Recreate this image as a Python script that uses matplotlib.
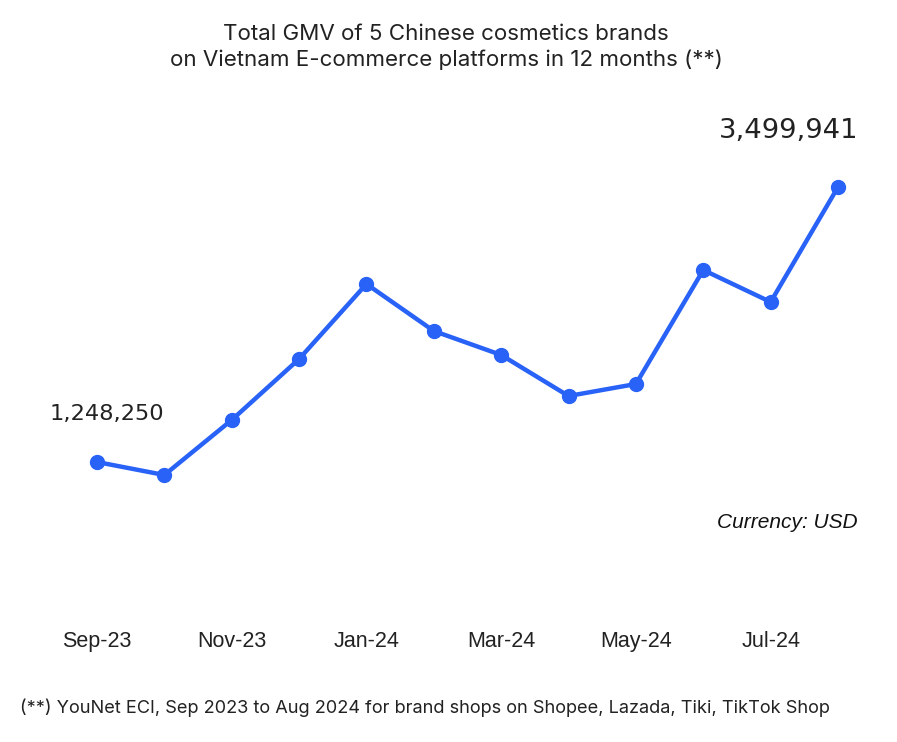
import matplotlib
matplotlib.use("Agg")
import matplotlib.pyplot as plt

months = ["Sep-23", "Oct-23", "Nov-23", "Dec-23", "Jan-24", "Feb-24",
          "Mar-24", "Apr-24", "May-24", "Jun-24", "Jul-24", "Aug-24"]
gmv = [1248250, 1141800, 1592150, 2091600, 2705700, 2320900,
       2124400, 1788700, 1886900, 2820300, 2558300, 3499941]
tick_labels = ["Sep-23", "Nov-23", "Jan-24", "Mar-24", "May-24", "Jul-24"]

W, H = 897, 742
fig = plt.figure(figsize=(W / 100, H / 100), dpi=100)
fig.patch.set_facecolor("white")

# axes spanning pixel x 60..875, y 100..600
ax = fig.add_axes([60 / W, 1 - 600 / H, (875 - 60) / W, (600 - 100) / H])
x = list(range(len(months)))
ax.plot(x, gmv, color="#2962F7", lw=3.2, marker="o", ms=10,
        solid_joinstyle="round", solid_capstyle="round", zorder=3)
ax.set_xlim(-0.549, 11.549)
ax.set_ylim(118306, 4212306)
ax.set_xticks([months.index(t) for t in tick_labels])
ax.set_xticklabels(tick_labels, fontsize=15.5, family="Liberation Sans",
                   color="#222222")
ax.tick_params(axis="x", length=0, pad=22)
ax.set_yticks([])
for s in ax.spines.values():
    s.set_visible(False)

ax.annotate(f"{gmv[0]:,}", xy=(0, gmv[0]), xytext=(-47, 48),
            textcoords="offset pixels", ha="left", va="center",
            fontsize=16.2, family="DejaVu Sans", color="#222222")
ax.annotate(f"{gmv[-1]:,}", xy=(11, gmv[-1]), xytext=(-49, 56),
            textcoords="offset pixels", ha="center", va="center",
            fontsize=19.7, family="DejaVu Sans", color="#222222")

fig.text(858 / W, 1 - 522 / H, "Currency: USD", ha="right", va="center",
         fontsize=15, style="italic", family="Liberation Sans", color="#111111")

fig.text(446 / W, 1 - 47 / H,
         "Total GMV of 5 Chinese cosmetics brands\non Vietnam E-commerce platforms in 12 months (**)",
         ha="center", va="center", fontsize=16.1, family="Inter",
         color="#222222", linespacing=1.32)

fig.text(20 / W, 1 - 708 / H,
         "(**) YouNet ECI, Sep 2023 to Aug 2024 for brand shops on Shopee, Lazada, Tiki, TikTok Shop",
         ha="left", va="center", fontsize=13.1, family="Inter", color="#222222")

fig.savefig("out.png", dpi=100, facecolor="white")
